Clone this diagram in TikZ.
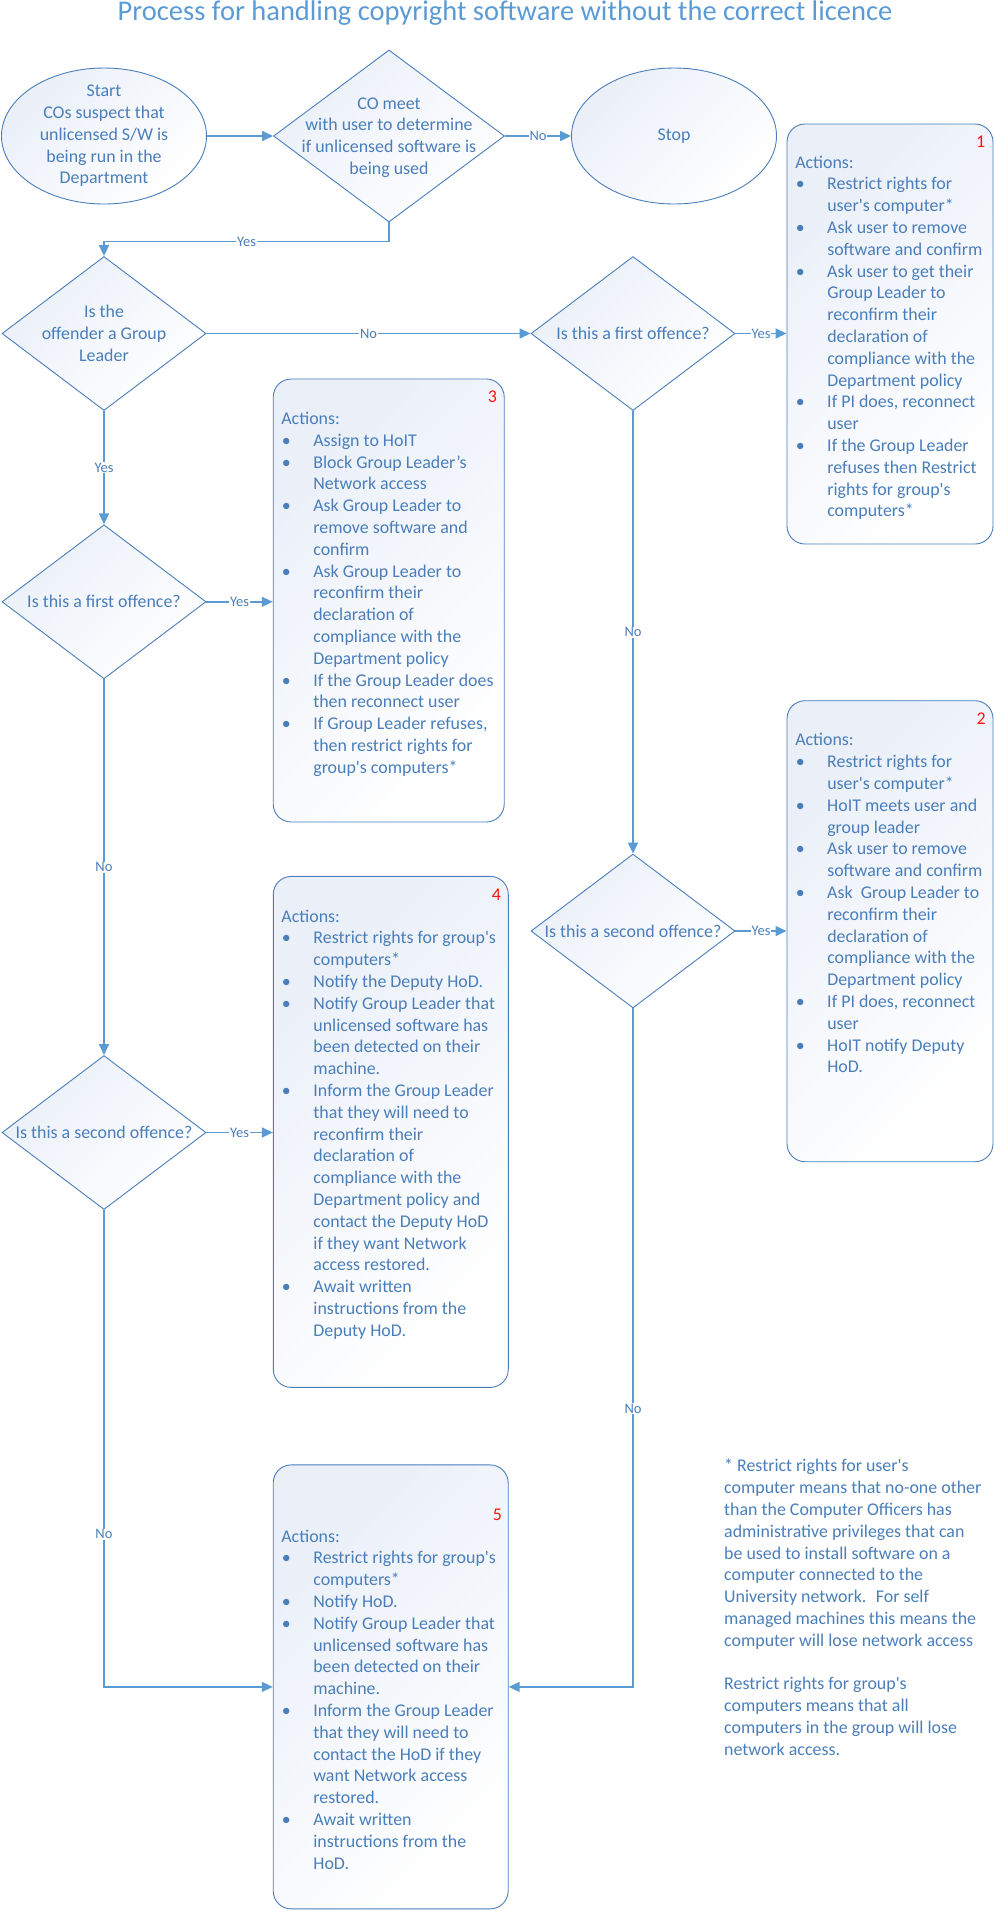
\documentclass[tikz,border=0pt]{standalone}
\usepackage{fontspec}
\setmainfont{Carlito}
\usetikzlibrary{shapes.geometric, arrows.meta, positioning}

\definecolor{lineblue}{RGB}{91,155,213}
\definecolor{textblue}{RGB}{74,126,187}
\definecolor{fillblue}{RGB}{234,239,248}
\definecolor{numred}{RGB}{255,20,20}

\newcommand{\bul}{\makebox[32pt][l]{\hspace{0.5pt}\textbullet}}
\newcommand{\ind}{\hspace*{32pt}}
\newcommand{\aps}{\textquotesingle}

\begin{document}
\begin{tikzpicture}[x=1pt, y=-1pt, >={Triangle[length=11pt,width=10pt]},
  shapefill/.style={draw=textblue, line width=0.9pt, top color=fillblue, bottom color=white, shading angle=45},
  terminal/.style={shapefill, ellipse, inner sep=0pt, minimum width=205pt, minimum height=136pt},
  decision/.style={shapefill, diamond, inner sep=0pt, minimum width=204pt, minimum height=154pt},
  actbox/.style={shapefill, rectangle, rounded corners=18pt, inner sep=0pt},
  qtext/.style={align=center, text=textblue, inner sep=0pt, font=\fontsize{17.9pt}{21.7pt}\selectfont},
  acttext/.style={align=left, text=textblue, inner sep=0pt, font=\fontsize{17.9pt}{21.8pt}\selectfont},
  boxnum/.style={text=numred, inner sep=0pt, font=\fontsize{17.9pt}{21.8pt}\selectfont},
  flow/.style={draw=lineblue, line width=1.5pt, ->},
  lab/.style={fill=white, text=textblue, inner sep=0.8pt, font=\fontsize{14.5pt}{16pt}\selectfont}]

  % --- Spalten ---
  \pgfmathsetmacro{\colL}{104}   % linke Spalte
  \pgfmathsetmacro{\colM}{389}   % CO meet
  \pgfmathsetmacro{\colR}{633}   % rechte Spalte

  \useasboundingbox (0,0) rectangle (996,1912);

  % --- Titel ---
  \node[anchor=base, text=lineblue, inner sep=0pt, font=\fontsize{28.5pt}{32pt}\selectfont] (title) at (505,20.7)
    {Process for handling copyright software without the correct licence};

  % --- Start / Stop und erste Entscheidung ---
  \node[terminal] (start) at (\colL,136) {};
  \node[qtext] (start-t) at (start) {Start\\COs suspect that\\unlicensed S/W is\\being run in the\\Department};

  \node[decision, minimum width=231pt, minimum height=172pt] (meet) at (\colM,136) {};
  \node[qtext] (meet-t) at ([yshift=-1.5pt]meet.center) {CO meet\\with user to determine\\if unlicensed software is\\being used};

  \node[terminal] (stop) at (674,136) {};
  \node[qtext] (stop-t) at (stop) {Stop};

  % --- Entscheidungen ---
  \node[decision] (leader) at (\colL,333.5) {};
  \node[qtext] (leader-t) at (leader) {Is the\\offender a Group\\Leader};

  \node[decision] (firstR) at (\colR,333.5) {};
  \node[qtext] (firstR-t) at (firstR) {Is this a first offence?};

  \node[decision] (firstL) at (\colL,601.8) {};
  \node[qtext] (firstL-t) at (firstL) {Is this a first offence?};

  \node[decision] (secondR) at (\colR,931) {};
  \node[qtext] (secondR-t) at (secondR) {Is this a second offence?};

  \node[decision] (secondL) at (\colL,1132.5) {};
  \node[qtext] (secondL-t) at (secondL) {Is this a second offence?};

  % --- Aktionen 1 ---
  \node[actbox, minimum width=206pt, minimum height=420pt] (act1) at (890,334) {};
  \node[boxnum, below left=12pt and 8pt of act1.north east] (num1) {1};
  \node[acttext, below right=32pt and 8.5pt of act1.north west] (act1-t) {Actions:\\
    \bul Restrict rights for\\ \ind user\aps s computer*\\
    \bul Ask user to remove\\ \ind software and confirm\\
    \bul Ask user to get their\\ \ind Group Leader to\\ \ind reconfirm their\\ \ind declaration of\\
    \ind compliance with the\\ \ind Department policy\\
    \bul If PI does, reconnect\\ \ind user\\
    \bul If the Group Leader\\ \ind refuses then Restrict\\ \ind rights for group\aps s\\ \ind computers*};

  % --- Aktionen 2 ---
  \node[actbox, minimum width=206pt, minimum height=461pt] (act2) at (890,931.2) {};
  \node[boxnum, below left=12pt and 7.5pt of act2.north east] (num2) {2};
  \node[acttext, below right=33pt and 8.5pt of act2.north west] (act2-t) {Actions:\\
    \bul Restrict rights for\\ \ind user\aps s computer*\\
    \bul HoIT meets user and\\ \ind group leader\\
    \bul Ask user to remove\\ \ind software and confirm\\
    \bul Ask \ Group Leader to\\ \ind reconfirm their\\ \ind declaration of\\
    \ind compliance with the\\ \ind Department policy\\
    \bul If PI does, reconnect\\ \ind user\\
    \bul HoIT notify Deputy\\ \ind HoD.};

  % --- Aktionen 3 ---
  \node[actbox, minimum width=231pt, minimum height=443pt] (act3) at (388.7,600.5) {};
  \node[boxnum, below left=12pt and 7.5pt of act3.north east] (num3) {3};
  \node[acttext, below right=33.4pt and 8.4pt of act3.north west] (act3-t) {Actions:\\
    \bul Assign to HoIT\\
    \bul Block Group Leader’s\\ \ind Network access\\
    \bul Ask Group Leader to\\ \ind remove software and\\ \ind confirm\\
    \bul Ask Group Leader to\\ \ind reconfirm their\\ \ind declaration of\\
    \ind compliance with the\\ \ind Department policy\\
    \bul If the Group Leader does\\ \ind then reconnect user\\
    \bul If Group Leader refuses,\\ \ind then restrict rights for\\ \ind group\aps s computers*};

  % --- Aktionen 4 ---
  \node[actbox, minimum width=235pt, minimum height=511pt] (act4) at (390.8,1131.9) {};
  \node[boxnum, below left=13pt and 7.5pt of act4.north east] (num4) {4};
  \node[acttext, below right=33.6pt and 8.4pt of act4.north west] (act4-t) {Actions:\\
    \bul Restrict rights for group\aps s\\ \ind computers*\\
    \bul Notify the Deputy HoD.\\
    \bul Notify Group Leader that\\ \ind unlicensed software has\\ \ind been detected on their\\ \ind machine.\\
    \bul Inform the Group Leader\\ \ind that they will need to\\ \ind reconfirm their\\ \ind declaration of\\
    \ind compliance with the\\ \ind Department policy and\\ \ind contact the Deputy HoD\\
    \ind if they want Network\\ \ind access restored.\\
    \bul Await written\\ \ind instructions from the\\ \ind Deputy HoD.};

  % --- Aktionen 5 ---
  \node[actbox, minimum width=235pt, minimum height=444pt] (act5) at (390.7,1686.9) {};
  \node[boxnum, below left=44pt and 6.5pt of act5.north east] (num5) {5};
  \node[acttext, below right=65pt and 8.4pt of act5.north west] (act5-t) {Actions:\\
    \bul Restrict rights for group\aps s\\ \ind computers*\\
    \bul Notify HoD.\\
    \bul Notify Group Leader that\\ \ind unlicensed software has\\ \ind been detected on their\\ \ind machine.\\
    \bul Inform the Group Leader\\ \ind that they will need to\\ \ind contact the HoD if they\\
    \ind want Network access\\ \ind restored.\\
    \bul Await written\\ \ind instructions from the\\ \ind HoD.};

  % --- Fussnote ---
  \node[acttext, anchor=north west] (note) at (724,1459) {* Restrict rights for user\aps s\\
    computer means that no-one other\\ than the Computer Officers has\\
    administrative privileges that can\\ be used to install software on a\\
    computer connected to the\\ University network. \ For self\\
    managed machines this means the\\ computer will lose network access\\[21.8pt]
    Restrict rights for group\aps s\\ computers means that all\\
    computers in the group will lose\\ network access.};

  % --- Verbindungen ---
  \draw[flow] (start) -- (meet);
  \draw[flow] (meet) -- node[lab] {No} (stop);
  \draw[flow] (meet.south) -- ++(0,19) -| node[lab, pos=0.25] {Yes} (leader.north);
  \draw[flow] (leader) -- node[lab] {No} (firstR);
  \draw[flow] (firstR.east) -- node[lab] {Yes} (firstR.east -| act1.west);
  \draw[flow] (leader) -- node[lab] {Yes} (firstL);
  \draw[flow] (firstL.east) -- node[lab] {Yes} (firstL.east -| act3.west);
  \draw[flow] (firstL) -- node[lab] {No} (secondL);
  \draw[flow] (secondL.east) -- node[lab] {Yes} (secondL.east -| act4.west);
  \draw[flow] (secondL.south) |- node[lab, pos=0.34] {No} (act5.west);
  \draw[flow] (firstR) -- node[lab] {No} (secondR);
  \draw[flow] (secondR.east) -- node[lab] {Yes} (secondR.east -| act2.west);
  \draw[flow] (secondR.south) |- node[lab, pos=0.295] {No} (act5.east);

\end{tikzpicture}
\end{document}
